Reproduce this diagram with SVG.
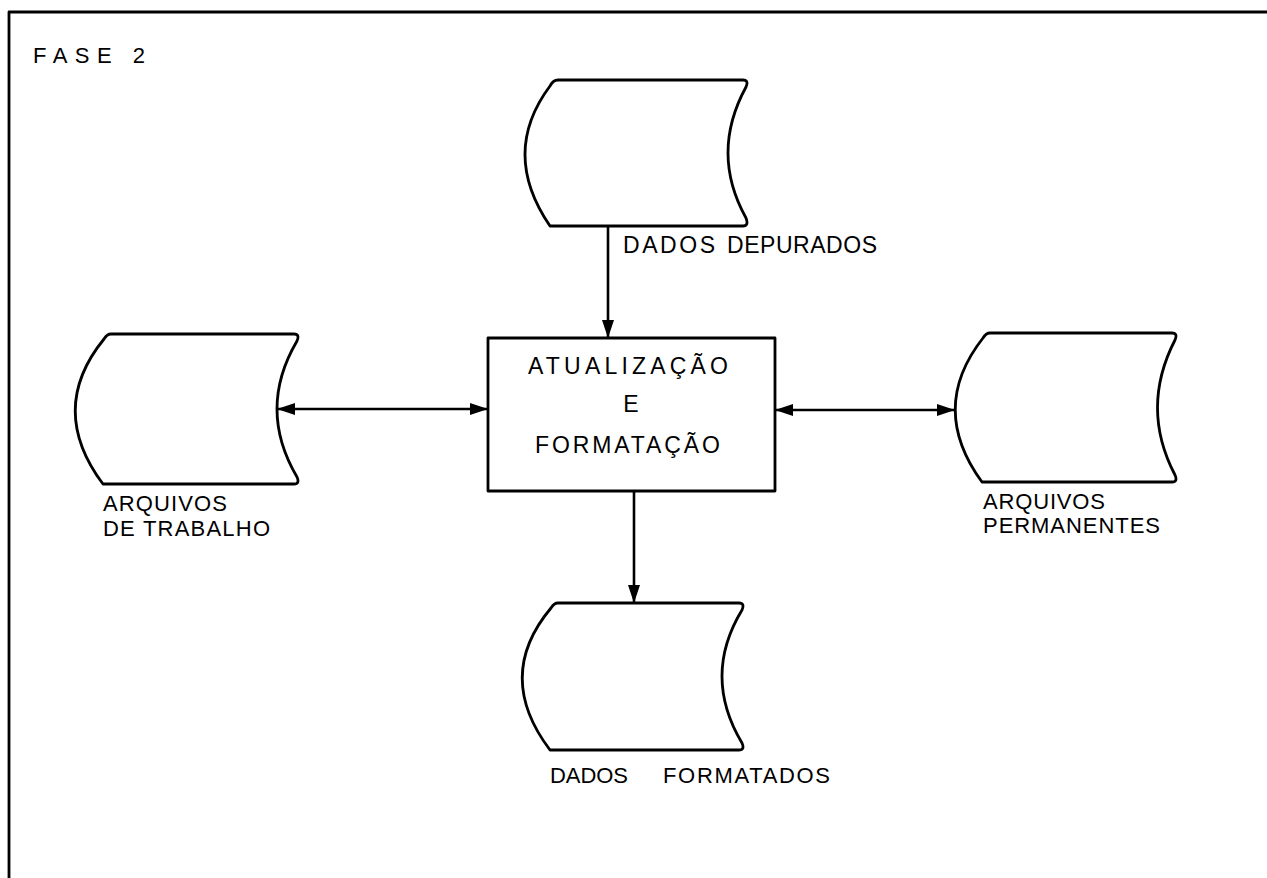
<svg xmlns="http://www.w3.org/2000/svg" width="1267" height="878" viewBox="0 0 1267 878">
<style>
  .shape { fill: none; stroke: #000; stroke-width: 2.8; stroke-linejoin: round; }
  .conn { fill: none; stroke: #000; stroke-width: 2.6; }
  .lbl { font-family: "Liberation Sans", Arial, sans-serif; font-size: 22px; fill: #000; }
  .big { font-size: 23px; }
</style>
<defs>
  <marker id="ah" viewBox="0 0 18 12" refX="18" refY="6" markerWidth="18" markerHeight="12" markerUnits="userSpaceOnUse" orient="auto-start-reverse">
    <path d="M0,0 L18,6 L0,12 Z" fill="#000"/>
  </marker>
</defs>
<rect width="1267" height="878" fill="#fff"/>
<g id="frame">
  <path d="M9,878 V12 H1267" class="shape"/>
  <text class="lbl" x="33" y="63" textLength="112" lengthAdjust="spacing">FASE 2</text>
</g>
<g id="dados-depurados">
  <path class="shape" d="M558,80 H743 Q749,80 746,87 Q710,153 746,218 Q749,226 743,226 H550 Q500,153 550,86 Q553,80 558,80 Z"/>
  <text class="lbl big" x="623" y="253" textLength="92" lengthAdjust="spacing">DADOS</text>
  <text class="lbl big" x="727" y="253" textLength="150" lengthAdjust="spacing">DEPURADOS</text>
</g>
<g id="arquivos-trabalho">
  <path class="shape" d="M111,334 H294 Q300,334 297,341 Q257,409 297,477 Q300,484 294,484 H103 Q47,409 104,339 Q107,334 111,334 Z"/>
  <text class="lbl" x="103" y="511" textLength="124" lengthAdjust="spacing">ARQUIVOS</text>
  <text class="lbl" x="103" y="536" textLength="167" lengthAdjust="spacing">DE TRABALHO</text>
</g>
<g id="processo">
  <rect class="shape" x="488" y="338" width="287" height="153"/>
  <text class="lbl big" x="528" y="374" textLength="200" lengthAdjust="spacing">ATUALIZAÇÃO</text>
  <text class="lbl big" x="631" y="412" text-anchor="middle">E</text>
  <text class="lbl big" x="535" y="453" textLength="185" lengthAdjust="spacing">FORMATAÇÃO</text>
</g>
<g id="arquivos-permanentes">
  <path class="shape" d="M990,333 H1172 Q1178,333 1175,340 Q1140,408 1175,475 Q1178,482 1172,482 H982 Q928,408 983,338 Q986,333 990,333 Z"/>
  <text class="lbl" x="983" y="509" textLength="122" lengthAdjust="spacing">ARQUIVOS</text>
  <text class="lbl" x="983" y="533" textLength="177" lengthAdjust="spacing">PERMANENTES</text>
</g>
<g id="dados-formatados">
  <path class="shape" d="M558,603 H739 Q745,603 742,610 Q702,676 742,743 Q745,750 739,750 H550 Q494,676 551,608 Q554,603 558,603 Z"/>
  <text class="lbl" x="550" y="783" textLength="78" lengthAdjust="spacing">DADOS</text>
  <text class="lbl" x="663" y="783" textLength="167" lengthAdjust="spacing">FORMATADOS</text>
</g>
<g id="connectors">
  <line class="conn" x1="608" y1="226" x2="608" y2="338" marker-end="url(#ah)"/>
  <line class="conn" x1="277" y1="409" x2="488" y2="409" marker-start="url(#ah)" marker-end="url(#ah)"/>
  <line class="conn" x1="775" y1="410" x2="955" y2="410" marker-start="url(#ah)" marker-end="url(#ah)"/>
  <line class="conn" x1="634" y1="491" x2="634" y2="603" marker-end="url(#ah)"/>
</g>
</svg>
